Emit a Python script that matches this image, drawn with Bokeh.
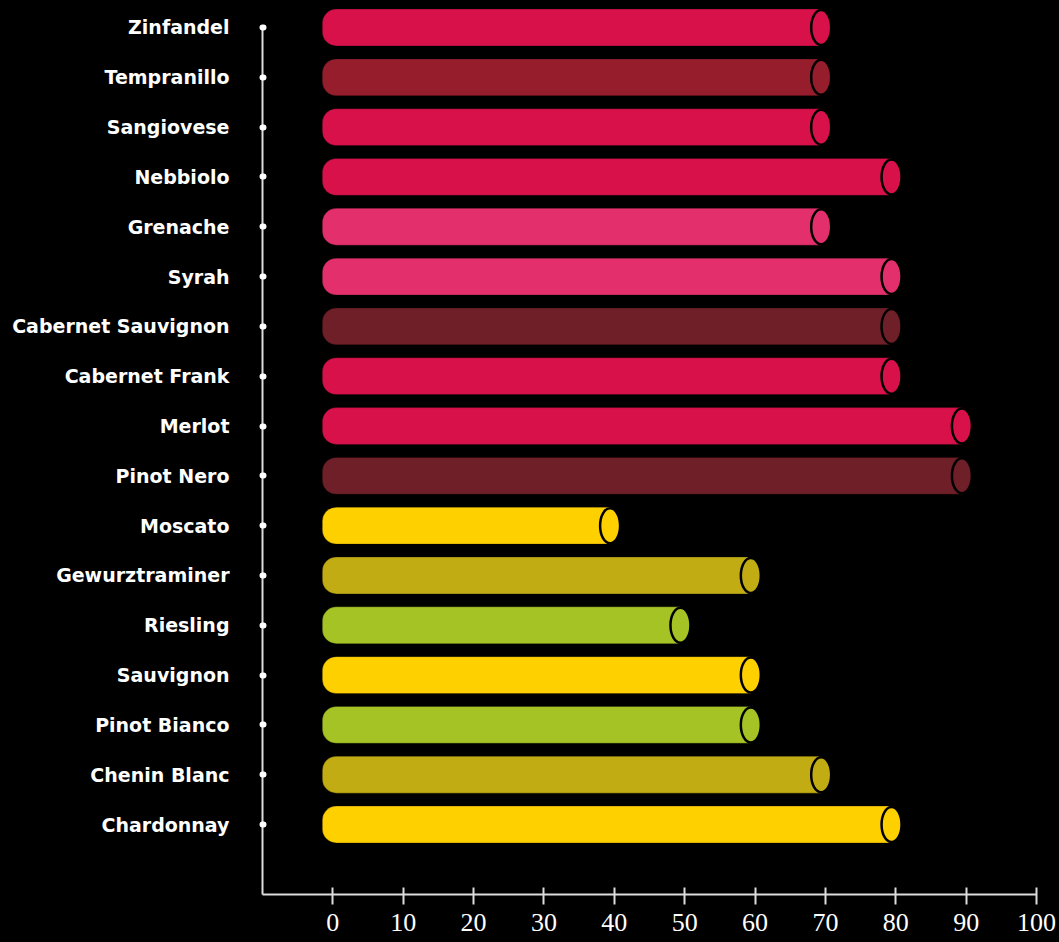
from bokeh.plotting import figure
from bokeh.models import ColumnDataSource, FixedTicker, Range1d
from bokeh.embed import file_html
from bokeh.resources import INLINE

# ---- data (top to bottom as in the chart) ----
grapes = ["Zinfandel", "Tempranillo", "Sangiovese", "Nebbiolo", "Grenache", "Syrah",
          "Cabernet Sauvignon", "Cabernet Frank", "Merlot", "Pinot Nero", "Moscato",
          "Gewurztraminer", "Riesling", "Sauvignon", "Pinot Bianco", "Chenin Blanc",
          "Chardonnay"]
scores = [70, 70, 70, 80, 70, 80, 80, 80, 90, 90, 40, 60, 50, 60, 60, 70, 80]
colors = ["#D9114A", "#961D2B", "#D9114A", "#D9114A", "#E3306C", "#E3306C",
          "#6E1F27", "#D9114A", "#D9114A", "#6E1F27", "#FFD000", "#C1AC14",
          "#A5C324", "#FFD000", "#A5C324", "#C1AC14", "#FFD000"]
x_ticks = [0, 10, 20, 30, 40, 50, 60, 70, 80, 90, 100]

# ---- styling constants ----
BAR_START = -1.5     # rounded left end sits slightly left of zero
END_SHIFT = 0.6      # cylinder cap centre sits slightly left of the value
BAR_HEIGHT = 0.74

n = len(grapes)
ypos = [n - 1 - i for i in range(n)]
src = ColumnDataSource(dict(
    y=ypos,
    name=grapes,
    value=scores,
    end=[v - END_SHIFT for v in scores],
    start=[BAR_START] * n,
    color=colors,
))

p = figure(width=1059, height=942, output_backend="svg", toolbar_location=None,
           x_range=Range1d(-10, 100), y_range=Range1d(-1.405, 16.542),
           min_border_left=262, min_border_right=23, min_border_top=0,
           min_border_bottom=48)
p.background_fill_color = "black"
p.border_fill_color = "black"
p.outline_line_color = None
p.xgrid.visible = False
p.ygrid.visible = False

p.hbar(y="y", left="start", right="end", height=BAR_HEIGHT, source=src,
       fill_color="color", line_color="black", line_alpha=0.25, line_width=1,
       border_radius=(14, 0, 0, 14))
p.ellipse(x="end", y="y", width=20, height=35, width_units="screen",
          height_units="screen", source=src, fill_color="color",
          line_color="black", line_width=2.5)

# x axis
xa = p.xaxis[0]
xa.ticker = FixedTicker(ticks=x_ticks)
xa.axis_line_color = "#dcdcdc"
xa.axis_line_width = 2
xa.major_tick_line_color = "#dcdcdc"
xa.major_tick_line_width = 2
xa.major_tick_in = 7
xa.major_tick_out = 10
xa.minor_tick_line_color = None
xa.major_label_text_font = "Liberation Serif"
xa.major_label_text_font_size = "26px"
xa.major_label_text_color = "white"
xa.major_label_standoff = 9

# y axis
ya = p.yaxis[0]
ya.ticker = FixedTicker(ticks=ypos)
ya.bounds = (-1.405, n - 1)
ya.major_label_overrides = {y: g for y, g in zip(ypos, grapes)}
ya.axis_line_color = "#dcdcdc"
ya.axis_line_width = 2
ya.major_tick_line_color = "white"
ya.major_tick_line_width = 6
ya.major_tick_line_cap = "round"
ya.major_tick_in = 1
ya.major_tick_out = 0
ya.minor_tick_line_color = None
ya.major_label_text_font = "DejaVu Sans"
ya.major_label_text_font_style = "bold"
ya.major_label_text_font_size = "19px"
ya.major_label_text_color = "white"
ya.major_label_standoff = 33

html = file_html(p, INLINE)
html = html.replace("<head>", "<head><style>html,body{margin:0;padding:0;background:#000;overflow:hidden}</style>", 1)
open("out.html", "w").write(html)
